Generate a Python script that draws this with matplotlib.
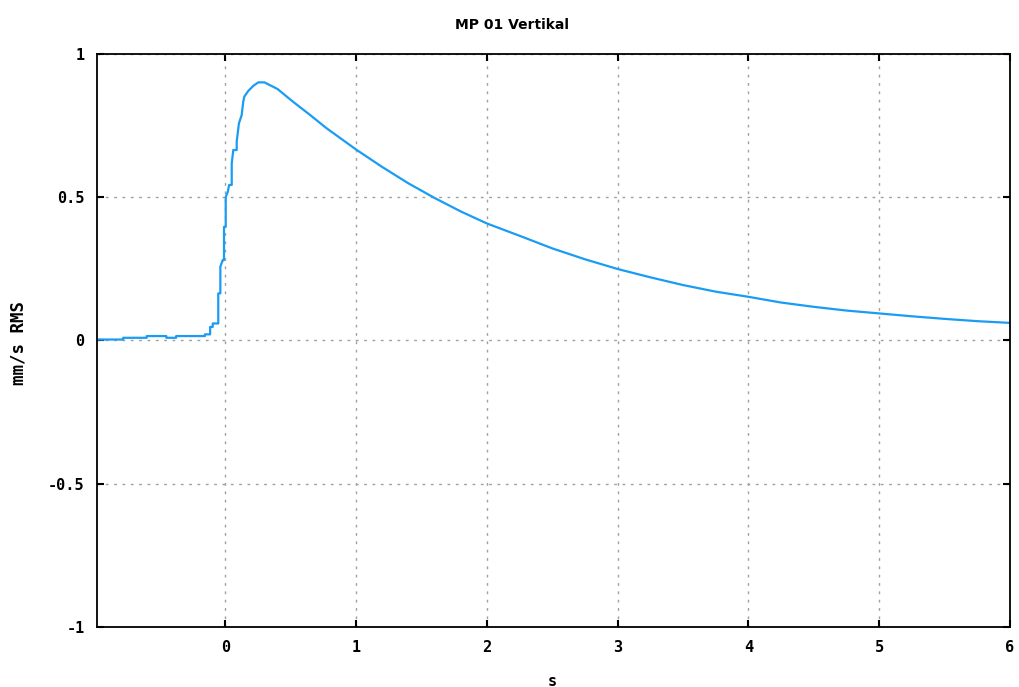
import numpy as np
import matplotlib
matplotlib.use("Agg")
import matplotlib.pyplot as plt

# time (s) and velocity (mm/s RMS)
t = [-0.98, -0.78, -0.78, -0.60, -0.60, -0.45, -0.45, -0.375, -0.375, -0.155,
     -0.155, -0.115, -0.115, -0.095, -0.095, -0.053, -0.053, -0.037, -0.037, -0.019,
     -0.009, -0.009, 0.004, 0.004, 0.02, 0.03, 0.05, 0.05, 0.062, 0.088,
     0.088, 0.105, 0.126, 0.138, 0.146, 0.176, 0.215, 0.253, 0.30,
     0.40, 0.52, 0.65, 0.775, 0.90, 1.0, 1.2, 1.4, 1.6, 1.8,
     2.0, 2.25, 2.5, 2.75, 3.0, 3.25, 3.5, 3.75, 4.0, 4.25,
     4.5, 4.75, 5.0, 5.25, 5.5, 5.75, 6.0]
v = [0.003, 0.003, 0.009, 0.009, 0.015, 0.015, 0.009, 0.009, 0.015, 0.015,
     0.021, 0.021, 0.047, 0.047, 0.059, 0.059, 0.164, 0.164, 0.257, 0.28,
     0.28, 0.396, 0.396, 0.50, 0.518, 0.542, 0.542, 0.617, 0.664, 0.664,
     0.693, 0.757, 0.786, 0.832, 0.85, 0.87, 0.888, 0.90, 0.90,
     0.877, 0.832, 0.786, 0.74, 0.699, 0.666, 0.605, 0.548, 0.497, 0.450,
     0.408, 0.365, 0.321, 0.283, 0.249, 0.22, 0.193, 0.17, 0.152, 0.132,
     0.117, 0.104, 0.094, 0.084, 0.075, 0.067, 0.061]

xticks = [0, 1, 2, 3, 4, 5, 6]
yticks = [-1, -0.5, 0, 0.5, 1]
ytick_labels = ['-1', '-0.5', '0', '0.5', '1']

fig = plt.figure(figsize=(10.2, 6.87), dpi=100)
ax = fig.add_axes([0.0951, 0.0873, 0.8951, 0.8345])

ax.plot(t, v, color='#1a9cf5', linewidth=1.6)

ax.set_xlim(-0.98, 6)
ax.set_ylim(-1, 1)
ax.set_xticks(xticks)
ax.set_xticklabels([str(x) for x in xticks])
ax.set_yticks(yticks)
ax.set_yticklabels(ytick_labels)

ax.grid(True, color='#a0a0a0', linestyle=(0, (2, 4)), linewidth=1.0)
ax.tick_params(direction='in', length=5, width=1.5, top=True, right=True,
               labelsize=11, pad=9, colors='black')
for lbl in ax.get_xticklabels() + ax.get_yticklabels():
    lbl.set_family('DejaVu Sans Mono')
    lbl.set_fontweight('bold')
for s in ax.spines.values():
    s.set_linewidth(1.3)

fig.text(0.502, 0.963, 'MP 01 Vertikal', ha='center', va='center',
         fontsize=10, fontweight='bold', family='DejaVu Sans')
fig.text(552 / 1020, 1 - 681 / 687, 's', ha='center', va='center',
         fontsize=11, fontweight='bold', family='DejaVu Sans Mono')
fig.text(19 / 1020, 1 - 343 / 687, 'mm/s RMS', rotation=90, ha='center', va='center',
         fontsize=12.5, fontweight='bold', family='DejaVu Sans Mono')

fig.savefig('out.png', dpi=100)
